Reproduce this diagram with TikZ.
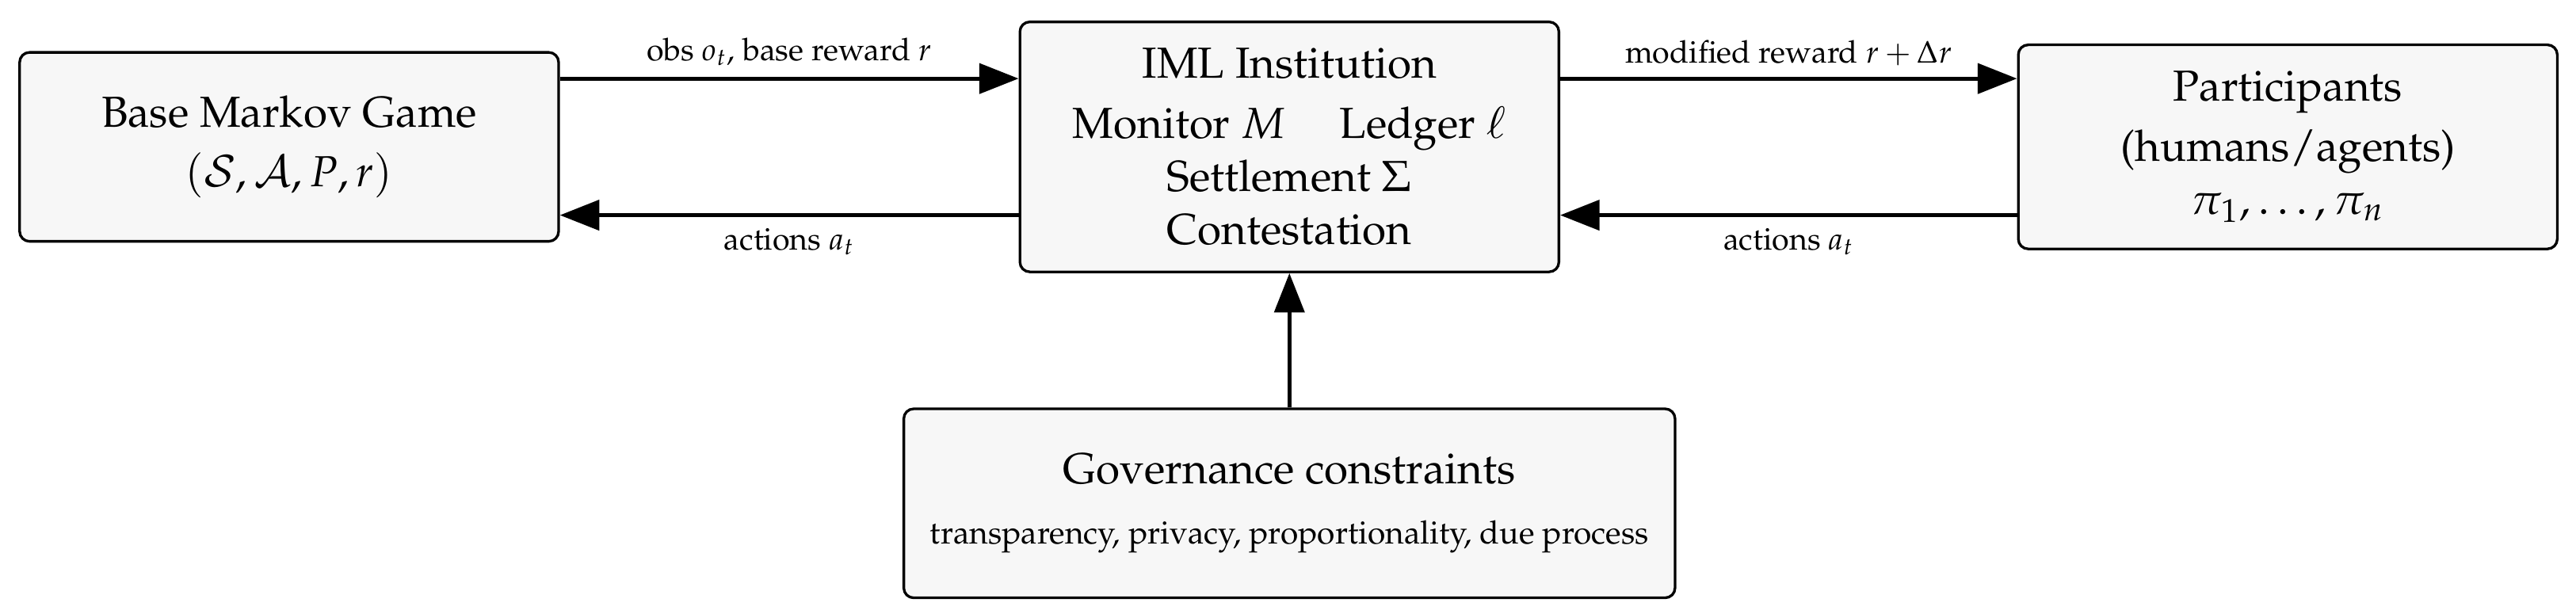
\documentclass[tikz,border=0pt]{standalone}
\usepackage[T1]{fontenc}
\usepackage{mathpazo}
\usetikzlibrary{arrows.meta}
\begin{document}
\begin{tikzpicture}[
    blk/.style={draw, thick, rounded corners=3pt, fill=black!3, align=center, inner sep=8pt,
      minimum width=5.76cm, minimum height=2.02cm, font={\fontsize{13.2}{16.2}\selectfont}},
    flow/.style={very thick, -{Triangle[length=4.2mm,width=3.2mm]}},
    lbl/.style={font={\fontsize{9.5}{11}\selectfont}}
  ]
\useasboundingbox (0,0) rectangle (27.53,6.56);

\node[blk] (base) at (3.09,4.99) {Base Markov Game\\[2pt]$(\mathcal{S},\mathcal{A},P,r)$};
\node[blk] (iml) at (13.78,4.99) {IML Institution\\[2pt]Monitor $M$ \quad Ledger $\ell$\\Settlement $\Sigma$\\Contestation};
\node[blk] (part) at (24.45,4.99) {Participants\\[2pt](humans/agents)\\$\pi_1,\dots,\pi_n$};
\node[blk] (gov) at (13.78,1.18) {Governance constraints\\[2pt]{\fontsize{9.8}{12}\selectfont transparency, privacy, proportionality, due process}};

\draw[flow] ([yshift=7.3mm]base.east) -- node[lbl, above] {obs $o_t$, base reward $r$} ([yshift=7.3mm]iml.west);
\draw[flow] ([yshift=-7.3mm]iml.west) -- node[lbl, below] {actions $a_t$} ([yshift=-7.3mm]base.east);
\draw[flow] ([yshift=7.3mm]iml.east) -- node[lbl, above] {modified reward $r+\Delta r$} ([yshift=7.3mm]part.west);
\draw[flow] ([yshift=-7.3mm]part.west) -- node[lbl, below] {actions $a_t$} ([yshift=-7.3mm]iml.east);
\draw[flow] (gov) -- (iml);
\end{tikzpicture}
\end{document}
